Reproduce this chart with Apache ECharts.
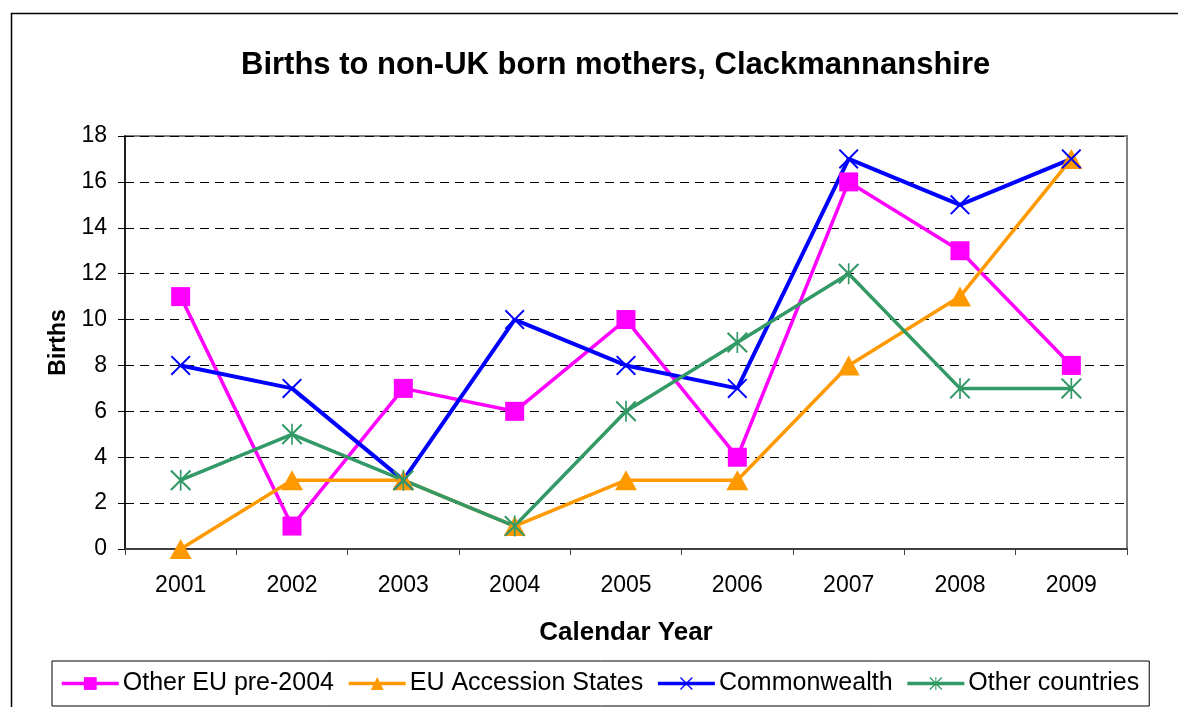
<!DOCTYPE html>
<html><head><meta charset="utf-8">
<script src="https://cdn.jsdelivr.net/npm/echarts@6/dist/echarts.min.js"></script>
<style>html,body{margin:0;padding:0;background:#fff}#c{width:1178px;height:707px}</style>
</head><body><div id="c"></div>
<script>
const years = ['2001','2002','2003','2004','2005','2006','2007','2008','2009'];
const otherEU = [11,1,7,6,10,4,16,13,8];
const accession = [0,3,3,1,3,3,8,11,17];
const commonwealth = [8,7,3,10,8,7,17,15,17];
const otherCountries = [3,5,3,1,6,9,12,7,7];
const seriesNames = ['Other EU pre-2004','EU Accession States','Commonwealth','Other countries'];

const FONT = '"Liberation Sans", Arial, sans-serif';
const xPath = 'path://M0,1.4 L1.4,0 L10,8.6 L18.6,0 L20,1.4 L11.4,10 L20,18.6 L18.6,20 L10,11.4 L1.4,20 L0,18.6 L8.6,10 Z';
const starPath = 'path://M0,1.4 L1.4,0 L10,8.6 L18.6,0 L20,1.4 L11.4,10 L20,18.6 L18.6,20 L10,11.4 L1.4,20 L0,18.6 L8.6,10 Z M9.2,0 L10.8,0 L10.8,20 L9.2,20 Z';

const chart = echarts.init(document.getElementById('c'), null, {renderer:'canvas'});
function mk(name, data, color, symbol, size, lw){
  return {name, type:'line', data, symbol, symbolSize:size, showAllSymbol:true,
    lineStyle:{color, width:lw}, itemStyle:{color, borderWidth:0}, emphasis:{disabled:true}, z:2};
}
chart.setOption({
  animation:false,
  textStyle:{fontFamily:FONT},
  graphic:[{type:'rect', left:9, top:11, shape:{x:0,y:0,width:1300,height:900}, style:{fill:'none', stroke:'#000', lineWidth:1.5}, silent:true, z:-1}],
  title:{text:'Births to non-UK born mothers, Clackmannanshire', left:236, top:45,
    textStyle:{fontFamily:FONT, fontSize:31, fontWeight:'bold', color:'#000'}},
  grid:{left:125, right:51, top:136, bottom:158, show:true, borderColor:'#808080', borderWidth:2},
  legend:{data:seriesNames, left:52, top:661, padding:[10,10,10,8], itemWidth:57, itemHeight:16, itemGap:13,
    borderColor:'#000', borderWidth:1, backgroundColor:'#fff',
    lineStyle:{width:3.5},
    textStyle:{fontFamily:FONT, fontSize:25, color:'#000', padding:[0,0,0,-1]}},
  xAxis:{type:'category', data:years, boundaryGap:true,
    name:'Calendar Year', nameLocation:'middle', nameGap:71,
    nameTextStyle:{fontFamily:FONT, fontSize:26, fontWeight:'bold', color:'#000'},
    axisLine:{lineStyle:{color:'#404040', width:2}},
    axisTick:{show:true, length:6, lineStyle:{color:'#404040'}},
    axisLabel:{fontFamily:FONT, fontSize:23, color:'#000', margin:25},
    splitLine:{show:false}},
  yAxis:{type:'value', min:0, max:18, interval:2,
    name:'Births', nameLocation:'middle', nameGap:47,
    nameTextStyle:{fontFamily:FONT, fontSize:23, fontWeight:'bold', color:'#000'},
    axisLine:{show:true, lineStyle:{color:'#000', width:1.5}},
    axisTick:{show:true, length:7, lineStyle:{color:'#000'}},
    axisLabel:{fontFamily:FONT, fontSize:23, color:'#000', margin:18},
    splitLine:{show:true, lineStyle:{color:'#000', type:[9,6], width:1}}},
  series:[
    mk(seriesNames[0], otherEU, '#FF00FF', 'rect', 19, 3.5),
    mk(seriesNames[1], accession, '#FF9900', 'triangle', [22,20], 3.5),
    mk(seriesNames[2], commonwealth, '#0000FF', xPath, 20, 4),
    mk(seriesNames[3], otherCountries, '#339966', starPath, 21, 3.5)
  ]
});
</script></body></html>
